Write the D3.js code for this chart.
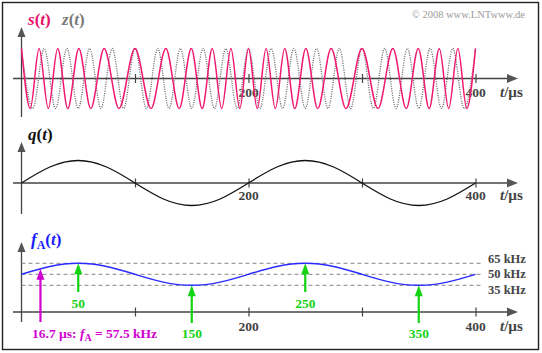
<!DOCTYPE html>
<html><head><meta charset="utf-8">
<script src="https://cdn.jsdelivr.net/npm/d3@7"></script>
<style>body{margin:0;background:#fff}svg{display:block}text{font-family:"Liberation Serif","Times New Roman",serif;font-weight:bold}</style>
</head><body>
<script>
// ---- data ----
const tDomain = [0, 400];
const tickValues = [100, 200, 300, 400];
const tickLabels = ["", "200", "", "400"];
// s(t): times of maxima and minima (µs)
const sPeakT = [0, 15.5, 31.9, 50.5, 72.8, 100, 127.2, 149.6, 168.1, 184.5, 200, 215.5, 231.9, 250.5, 272.8, 300, 327.2, 349.6, 368.1, 384.5, 400];
const sValleyT = [7.7, 23.6, 40.8, 61.0, 85.9, 114.1, 139.0, 159.2, 176.4, 192.3, 207.7, 223.6, 240.8, 261.0, 285.9, 314.1, 339.0, 359.2, 376.4, 392.3];
// z(t): carrier maxima and minima (µs)
const zPeakT = [0, 20, 40, 60, 80, 100, 120, 140, 160, 180, 200, 220, 240, 260, 280, 300, 320, 340, 360, 380, 400];
const zValleyT = [10, 30, 50, 70, 90, 110, 130, 150, 170, 190, 210, 230, 250, 270, 290, 310, 330, 350, 370, 390];
// q(t)
const qT = [0, 25, 50, 75, 100, 125, 150, 175, 200, 225, 250, 275, 300, 325, 350, 375, 400];
const qV = [0, 0.71, 1, 0.71, 0, -0.71, -1, -0.71, 0, 0.71, 1, 0.71, 0, -0.71, -1, -0.71, 0];
// fA(t) in kHz
const fT = qT;
const fV = [50, 60.6, 65, 60.6, 50, 39.4, 35, 39.4, 50, 60.6, 65, 60.6, 50, 39.4, 35, 39.4, 50];
const freqLines = [65, 50, 35];
const freqLabels = ["65 kHz", "50 kHz", "35 kHz"];
const greenT = [50, 150, 250, 350];
const greenF = [65, 35, 65, 35];
const markT = 16.7, markF = 57.5;

// ---- drawing ----
const W = 542, H = 353;
const svg = d3.select("body").append("svg").attr("width", W).attr("height", H);
svg.append("rect").attr("x", 2.5).attr("y", 2.5).attr("width", 536).attr("height", 347)
  .attr("fill", "none").attr("stroke", "#222").attr("stroke-width", 1.4);

const x = d3.scaleLinear().domain(tDomain).range([21.5, 475.5]);
const y1 = d3.scaleLinear().domain([-1, 1]).range([108.5, 48.5]);
const y2 = d3.scaleLinear().domain([-1, 1]).range([205.5, 160.5]);
const y3 = d3.scaleLinear().domain([35, 65]).range([285.3, 263.3]);

const axisCol = "#444", arrowCol = "#555";
function axes(yAxis, yTop, yBot, lblY) {
  const g = svg.append("g");
  g.append("line").attr("x1", 13).attr("x2", 510).attr("y1", yAxis).attr("y2", yAxis)
    .attr("stroke", axisCol).attr("stroke-width", 1.3);
  g.append("path").attr("d", `M518,${yAxis} L507,${yAxis-4.5} L507,${yAxis+4.5} Z`).attr("fill", arrowCol);
  g.append("line").attr("x1", x(0)).attr("x2", x(0)).attr("y1", yBot).attr("y2", yTop + 8)
    .attr("stroke", axisCol).attr("stroke-width", 1.3);
  g.append("path").attr("d", `M${x(0)},${yTop} L${x(0)-4},${yTop+10} L${x(0)+4},${yTop+10} Z`).attr("fill", arrowCol);
  const ax = d3.axisBottom(x).tickValues(tickValues).tickSize(9).tickFormat("");
  const ag = g.append("g").attr("transform", `translate(0,${yAxis-4.5})`).call(ax);
  ag.select(".domain").remove();
  ag.selectAll("line").attr("stroke", axisCol).attr("stroke-width", 1.2);
  tickValues.forEach((v, i) => {
    if (tickLabels[i]) g.append("text").attr("x", x(v)).attr("y", lblY).attr("text-anchor", "middle")
      .attr("font-size", 13.5).attr("fill", "#444").text(tickLabels[i]);
  });
  const tl = g.append("text").attr("x", 500).attr("y", lblY).attr("font-size", 15).attr("fill", "#444");
  tl.append("tspan").attr("font-style", "italic").text("t");
  tl.append("tspan").text("/µs");
}
axes(78.5, 27, 117, 97);
axes(183, 142, 214, 200);
axes(312, 242, 322, 331);

// panel 1
const sPts = sPeakT.map(t => [t, 1]).concat(sValleyT.map(t => [t, -1])).sort((a, b) => a[0] - b[0]);
const zPts = zPeakT.map(t => [t, 1]).concat(zValleyT.map(t => [t, -1])).sort((a, b) => a[0] - b[0]);
const line1 = d3.line().x(d => x(d[0])).y(d => y1(d[1])).curve(d3.curveMonotoneX);
svg.append("path").attr("d", line1(zPts)).attr("fill", "none").attr("stroke", "#666")
  .attr("stroke-width", 1.3).attr("stroke-dasharray", "1,1.3");
svg.append("path").attr("d", line1(sPts)).attr("fill", "none").attr("stroke", "#f0186f").attr("stroke-width", 1.5);

const l1 = svg.append("text").attr("x", 28).attr("y", 25).attr("font-size", 17);
l1.append("tspan").attr("fill", "#e8106a").attr("font-style", "italic").text("s");
l1.append("tspan").attr("fill", "#e8106a").text("(");
l1.append("tspan").attr("fill", "#e8106a").attr("font-style", "italic").text("t");
l1.append("tspan").attr("fill", "#e8106a").text(")");
const l1b = svg.append("text").attr("x", 62).attr("y", 25).attr("font-size", 17).attr("fill", "#7a7a7a");
l1b.append("tspan").attr("font-style", "italic").text("z");
l1b.append("tspan").text("(");
l1b.append("tspan").attr("font-style", "italic").text("t");
l1b.append("tspan").text(")");
svg.append("text").attr("x", 525).attr("y", 18).attr("text-anchor", "end").attr("font-size", 10.5)
  .style("font-weight", "normal").attr("fill", "#9a9a9a").text("© 2008 www.LNTwww.de");

// panel 2
const line2 = d3.line().x((d, i) => x(qT[i])).y(d => y2(d)).curve(d3.curveNatural);
svg.append("path").attr("d", line2(qV)).attr("fill", "none").attr("stroke", "#111").attr("stroke-width", 1.3);
const l2 = svg.append("text").attr("x", 28).attr("y", 140).attr("font-size", 17).attr("fill", "#111");
l2.append("tspan").attr("font-style", "italic").text("q");
l2.append("tspan").text("(");
l2.append("tspan").attr("font-style", "italic").text("t");
l2.append("tspan").text(")");

// panel 3
const labelY = [262.5, 278, 293.5];
freqLines.forEach((f, i) => {
  svg.append("line").attr("x1", x(0)).attr("x2", 481).attr("y1", y3(f)).attr("y2", y3(f))
    .attr("stroke", "#888").attr("stroke-width", 1).attr("stroke-dasharray", "4,3");
  svg.append("text").attr("x", 488).attr("y", labelY[i]).attr("font-size", 12.5).attr("fill", "#444").text(freqLabels[i]);
});
const line3 = d3.line().x((d, i) => x(fT[i])).y(d => y3(d)).curve(d3.curveNatural);
svg.append("path").attr("d", line3(fV)).attr("fill", "none").attr("stroke", "#2a2aff").attr("stroke-width", 1.4);

function arrow(xp, yFrom, yTo, col) {
  svg.append("line").attr("x1", xp).attr("x2", xp).attr("y1", yFrom).attr("y2", yTo + 8)
    .attr("stroke", col).attr("stroke-width", 2.2);
  svg.append("path").attr("d", `M${xp},${yTo} L${xp-4},${yTo+11} L${xp+4},${yTo+11} Z`).attr("fill", col);
}
const green = "#14d214";
greenT.forEach((t, i) => {
  const up = greenF[i] > 50;
  arrow(x(t), up ? 292 : 323, y3(greenF[i]), green);
  svg.append("text").attr("x", x(t)).attr("y", up ? 307.5 : 337.5).attr("text-anchor", "middle")
    .attr("font-size", 13.5).attr("fill", green).text(String(t));
});
const mag = "#d000d0";
arrow(x(markT), 322, y3(markF), mag);
const ml = svg.append("text").attr("x", 32).attr("y", 337.5).attr("font-size", 13.5).attr("fill", mag);
ml.append("tspan").text(markT + " µs: ");
ml.append("tspan").attr("font-style", "italic").text("f");
ml.append("tspan").attr("font-size", 10).attr("dy", 3).text("A");
ml.append("tspan").attr("dy", -3).text(" = " + markF + " kHz");

const l3 = svg.append("text").attr("x", 31).attr("y", 245).attr("font-size", 17).attr("fill", "#1a1aff");
l3.append("tspan").attr("font-style", "italic").text("f");
l3.append("tspan").attr("font-size", 12).attr("dy", 4).text("A");
l3.append("tspan").attr("dy", -4).text("(");
l3.append("tspan").attr("font-style", "italic").text("t");
l3.append("tspan").text(")");
</script>
</body></html>
